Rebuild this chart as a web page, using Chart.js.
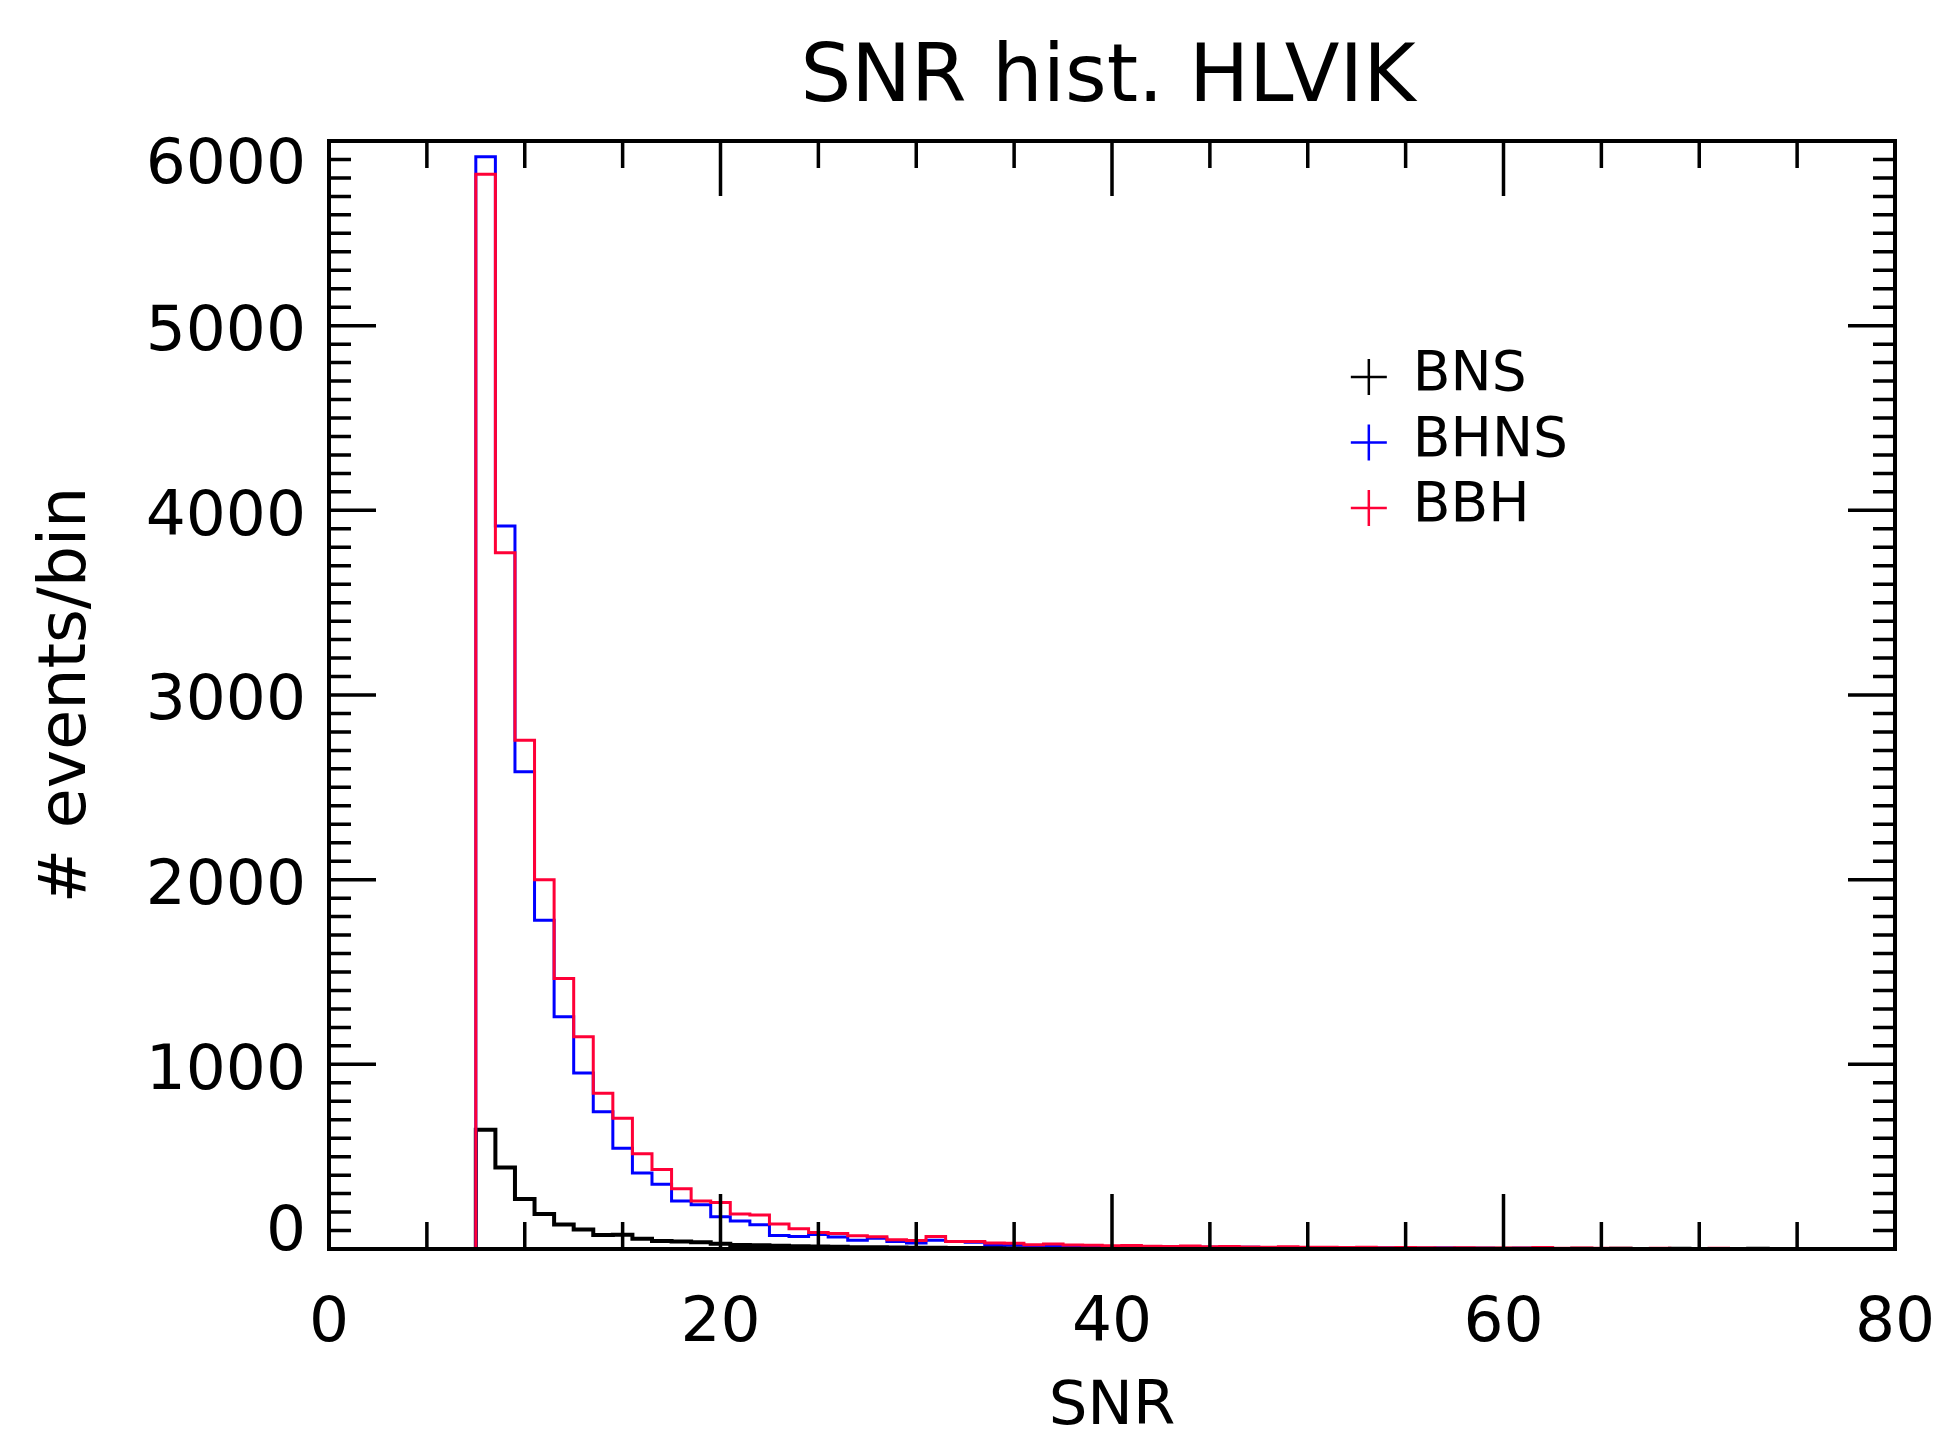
<!DOCTYPE html>
<html>
<head>
<meta charset="utf-8">
<title>SNR hist. HLVIK</title>
<script src="https://cdn.jsdelivr.net/npm/chart.js@4.4.1/dist/chart.umd.min.js"></script>
<style>
  html, body { margin: 0; padding: 0; background: #fff; }
  #wrap { width: 1942px; height: 1430px; }
</style>
</head>
<body>
<div id="wrap"><canvas id="snrHist" width="1942" height="1430"></canvas></div>
<script>
// histogram bins: unit width, first filled bin starts at SNR 7.5 (centres 8..80)
const binLow = 7.5
const binWidth = 1
const xMax = 80
const yMax = 6000

const bnsCounts = [
  646, 442, 271, 190, 132, 105, 76, 77, 56, 43,
  40, 36, 28, 22, 20, 17, 15, 13, 12, 10,
  9, 8, 7, 7, 6, 5, 5, 4, 4, 4,
  3, 3, 3, 3, 2, 2, 2, 2, 2, 2,
  2, 1, 1, 1, 1, 1, 1, 1, 1, 1,
  1, 1, 1, 1, 1, 0, 1, 0, 1, 0,
  0, 1, 0, 0, 0, 1, 0, 0, 0, 0,
  0, 0, 0,
]
const bhnsCounts = [
  5915, 3915, 2585, 1780, 1257, 953, 743, 545, 412, 350,
  260, 240, 175, 152, 131, 73, 68, 78, 65, 48,
  58, 41, 33, 48, 41, 36, 23, 22, 17, 19,
  15, 14, 12, 13, 10, 11, 9, 10, 8, 9,
  7, 8, 6, 7, 6, 5, 6, 5, 4, 5,
  4, 4, 3, 4, 3, 3, 3, 2, 3, 2,
  2, 2, 2, 1, 2, 1, 1, 2, 1, 1,
  1, 1, 1,
]
const bbhCounts = [
  5820, 3770, 2755, 2000, 1465, 1150, 843, 708, 516, 430,
  326, 260, 252, 190, 184, 135, 110, 90, 84, 72,
  67, 50, 46, 68, 41, 40, 32, 31, 23, 27,
  22, 20, 17, 19, 15, 14, 16, 12, 13, 11,
  10, 12, 9, 10, 8, 9, 7, 8, 7, 6,
  7, 6, 5, 6, 8, 4, 5, 4, 4, 3,
  4, 3, 3, 4, 3, 2, 3, 2, 2, 3,
  2, 2, 2,
]

const seriesLabels = ['BNS', 'BHNS', 'BBH']
const seriesColors = ['#000000', '#0000ff', '#ff0037']
const seriesWidths = [4, 3, 3]
const xTicks = [0, 20, 40, 60, 80]
const yTicks = [0, 1000, 2000, 3000, 4000, 5000, 6000]

const FONT = '"DejaVu Sans", sans-serif'

// step outline: flat zero up to the first bin edge, then one step per bin
function toSteps(counts) {
  const pts = [{ x: 0, y: 0 }]
  counts.forEach((c, i) => pts.push({ x: binLow + i * binWidth, y: c }))
  pts.push({ x: xMax, y: counts[counts.length - 1] })
  return pts
}

// boxed frame with inward ticks on all four sides, y labels, legend and title
const idlFrame = {
  id: 'idlFrame',
  afterDatasetsDraw(chart) {
    const { ctx, chartArea: a, scales: { x, y } } = chart
    ctx.save()
    ctx.strokeStyle = '#000'
    ctx.lineWidth = 3.5
    ctx.beginPath()
    for (let v = 0; v <= xMax; v += 5) {
      const px = x.getPixelForValue(v)
      const len = v % 20 === 0 ? 55 : 27
      ctx.moveTo(px, a.bottom); ctx.lineTo(px, a.bottom - len)
      ctx.moveTo(px, a.top); ctx.lineTo(px, a.top + len)
    }
    for (let v = 0; v <= yMax; v += 100) {
      const py = y.getPixelForValue(v)
      const len = v % 1000 === 0 ? 47 : 22
      ctx.moveTo(a.left, py); ctx.lineTo(a.left + len, py)
      ctx.moveTo(a.right, py); ctx.lineTo(a.right - len, py)
    }
    ctx.stroke()
    ctx.lineWidth = 4
    ctx.strokeRect(a.left, a.top, a.right - a.left, a.bottom - a.top)

    // y tick labels, kept inside the axis range at both ends
    ctx.fillStyle = '#000'
    ctx.font = '63px ' + FONT
    ctx.textAlign = 'right'
    ctx.textBaseline = 'middle'
    y.ticks.forEach((t) => {
      const py = y.getPixelForValue(t.value)
      const ly = Math.min(Math.max(py + 8, a.top + 26), a.bottom - 15)
      ctx.fillText(String(t.value), a.left - 23, ly)
    })

    // title
    ctx.textAlign = 'center'
    ctx.font = '80px ' + FONT
    ctx.fillText('SNR hist. HLVIK', 1108, 80)

    // legend: coloured crosses
    ctx.font = '55px ' + FONT
    ctx.textAlign = 'left'
    const cx = a.left + 0.664 * (a.right - a.left)
    chart.data.datasets.forEach((ds, i) => {
      const cy = a.top + 235 + i * 65.5
      ctx.strokeStyle = ds.borderColor
      ctx.lineWidth = 2.5
      ctx.beginPath()
      ctx.moveTo(cx - 18, cy + 1); ctx.lineTo(cx + 18, cy + 1)
      ctx.moveTo(cx, cy - 17); ctx.lineTo(cx, cy + 19)
      ctx.stroke()
      ctx.fillStyle = '#000'
      ctx.fillText(ds.label, cx + 44, cy)
    })
    ctx.restore()
  },
}

const datasets = [bnsCounts, bhnsCounts, bbhCounts].map((counts, i) => ({
  label: seriesLabels[i],
  data: toSteps(counts),
  borderColor: seriesColors[i],
  borderWidth: seriesWidths[i],
  pointRadius: 0,
  stepped: 'before',
  fill: false,
  order: 2 - i,
}))

new Chart(document.getElementById('snrHist'), {
  type: 'line',
  data: { datasets },
  options: {
    responsive: false,
    animation: false,
    devicePixelRatio: 1,
    layout: { padding: { top: 141, right: 47, left: 0, bottom: 0 } },
    plugins: { legend: { display: false }, tooltip: { enabled: false } },
    scales: {
      x: {
        type: 'linear',
        min: 0,
        max: xMax,
        afterBuildTicks: (s) => { s.ticks = xTicks.map((v) => ({ value: v })) },
        afterFit: (s) => { s.height = 181 },
        // hidden tick marks only reserve the gap above the labels
        grid: { display: false, drawTicks: true, tickLength: 38 },
        border: { display: false },
        ticks: { color: '#000', font: { family: FONT, size: 63 }, padding: 0, maxRotation: 0, autoSkip: false },
        title: {
          display: true,
          text: 'SNR',
          color: '#000',
          font: { family: FONT, size: 61, lineHeight: 0.7 },
          padding: { top: 0, bottom: 0 },
        },
      },
      y: {
        type: 'linear',
        min: 0,
        max: yMax,
        afterBuildTicks: (s) => { s.ticks = yTicks.map((v) => ({ value: v })) },
        afterFit: (s) => { s.width = 329 },
        grid: { display: false, drawTicks: false },
        border: { display: false },
        ticks: { display: false },
        title: {
          display: true,
          text: '# events/bin',
          color: '#000',
          font: { family: FONT, size: 65, lineHeight: 1 },
          padding: { top: 36, bottom: 0 },
        },
      },
    },
  },
  plugins: [idlFrame],
})
</script>
</body>
</html>
